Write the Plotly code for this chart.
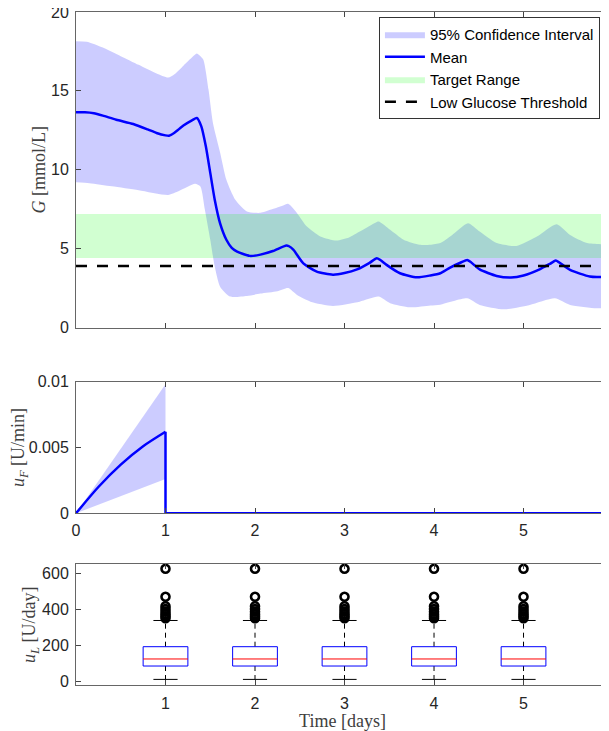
import plotly.graph_objects as go

# ---------------- data ----------------
# Glucose mean
t_mean = [0.00, 0.10, 0.20, 0.30, 0.45, 0.64, 0.80, 0.90, 1.00, 1.04, 1.10, 1.20, 1.30, 1.35,
          1.40, 1.45, 1.50, 1.55, 1.61, 1.68, 1.74, 1.80, 1.94, 2.06, 2.20, 2.35, 2.38, 2.43,
          2.54, 2.69, 2.87, 3.00, 3.14, 3.28, 3.36, 3.40, 3.47, 3.62, 3.81, 3.96, 4.07, 4.18,
          4.30, 4.37, 4.41, 4.51, 4.70, 4.86, 5.00, 5.18, 5.30, 5.36, 5.40, 5.52, 5.74, 5.85, 5.96]
g_mean = [13.64, 13.64, 13.58, 13.43, 13.17, 12.90, 12.56, 12.33, 12.18, 12.16, 12.35, 12.80, 13.15, 13.28,
          12.75, 11.50, 9.80, 8.10, 6.60, 5.56, 5.05, 4.81, 4.54, 4.62, 4.85, 5.20, 5.15, 4.92,
          4.07, 3.54, 3.35, 3.45, 3.68, 4.10, 4.39, 4.28, 3.97, 3.44, 3.18, 3.30, 3.44, 3.80,
          4.12, 4.28, 4.15, 3.68, 3.27, 3.17, 3.30, 3.69, 4.05, 4.24, 4.12, 3.65, 3.23, 3.20, 3.27]

# Glucose 95% CI upper bound
t_upper = [0.00, 0.12, 0.30, 0.50, 0.70, 0.90, 1.03, 1.10, 1.20, 1.30, 1.35, 1.42, 1.48, 1.53,
           1.61, 1.68, 1.78, 1.91, 2.06, 2.17, 2.30, 2.37, 2.47, 2.58, 2.73, 2.91, 3.05, 3.17,
           3.30, 3.38, 3.51, 3.66, 3.84, 3.96, 4.07, 4.20, 4.38, 4.51, 4.70, 4.92, 5.15, 5.37,
           5.52, 5.71, 5.96]
g_upper = [18.15, 18.12, 17.75, 17.20, 16.65, 16.10, 15.84, 16.05, 16.60, 17.15, 17.37, 17.00, 15.10, 12.97,
           11.10, 9.37, 8.10, 7.35, 7.27, 7.46, 7.70, 7.84, 7.25, 6.40, 5.77, 5.51, 5.70, 6.08,
           6.50, 6.72, 6.19, 5.56, 5.24, 5.24, 5.35, 5.85, 6.61, 6.08, 5.35, 5.17, 5.77, 6.55,
           5.87, 5.35, 5.13]

# Glucose 95% CI lower bound
t_lower = [0.00, 0.15, 0.40, 0.70, 1.03, 1.15, 1.33, 1.39, 1.44, 1.50, 1.55, 1.61, 1.72, 1.91,
           2.06, 2.25, 2.37, 2.47, 2.62, 2.87, 3.17, 3.38, 3.51, 3.73, 3.96, 4.07, 4.37, 4.51,
           4.78, 5.07, 5.35, 5.52, 5.82, 5.96]
g_lower = [9.20, 9.15, 8.95, 8.70, 8.40, 8.65, 9.11, 8.94, 7.46, 5.56, 3.86, 2.59, 1.96, 2.00,
           2.15, 2.30, 2.50, 2.06, 1.64, 1.37, 1.64, 1.96, 1.54, 1.28, 1.40, 1.45, 1.85, 1.43,
           1.15, 1.43, 1.85, 1.43, 1.22, 1.32]

target_low, target_high = 4.4, 7.2
low_threshold = 3.9
t_span = [0.0, 6.0]

# Insulin rate u_F (rise during day 1, then switched off)
t_uf_rise = [0.0, 0.25, 0.5, 0.75, 1.0]
uf_mean_rise = [0.0, 0.0020, 0.0037, 0.0051, 0.0062]
t_uf_off = [1.0, 1.0, 6.0]
uf_mean_off = [0.0062, 0.0, 0.0]
uf_upper = [0.0, 0.00245, 0.0049, 0.00735, 0.0098]
uf_lower = [0.0, 0.00065, 0.0013, 0.00195, 0.0026]

# Daily insulin u_L box statistics
days = [1, 2, 3, 4, 5]
ul_q1 = [87, 87, 87, 87, 87]
ul_median = [126, 126, 126, 126, 126]
ul_q3 = [194, 194, 194, 194, 194]
ul_wlow = [13, 13, 13, 13, 13]
ul_whigh = [339, 339, 339, 339, 339]
ul_outliers = [
    [625, 470, 418, 402, 388, 374, 362, 352],
    [625, 470, 418, 402, 388, 374, 362, 352],
    [625, 470, 418, 402, 388, 374, 362, 352],
    [625, 470, 418, 402, 388, 374, 362, 352],
    [625, 470, 418, 402, 388, 374, 362, 352],
]

# ---------------- style ----------------
BLUE = "#0000ff"
CI_FILL = "rgba(0,0,255,0.2)"
GREEN_FILL = "rgba(0,255,0,0.18)"
TICKFONT = dict(family="Liberation Sans, Arial, sans-serif", size=16, color="#262626")
TITLEFONT = dict(family="Liberation Serif, Times New Roman, serif", size=18, color="#404040")
XR = [0, 5.955]
BOX_HALF = 0.25
CAP_HALF = 0.135

fig = go.Figure()

# ---- top panel ----
fig.add_trace(go.Scatter(
    x=t_upper + t_lower[::-1], y=g_upper + g_lower[::-1],
    fill="toself", fillcolor=CI_FILL, line=dict(width=0, shape="spline", smoothing=0.6),
    mode="lines", name="95% Confidence Interval", legendrank=1,
    xaxis="x", yaxis="y", hoverinfo="skip"))
fig.add_trace(go.Scatter(
    x=[t_span[0], t_span[1], t_span[1], t_span[0]],
    y=[target_low, target_low, target_high, target_high],
    fill="toself", fillcolor=GREEN_FILL, line=dict(width=0), mode="lines",
    name="Target Range", legendrank=3, xaxis="x", yaxis="y", hoverinfo="skip"))
fig.add_trace(go.Scatter(
    x=t_mean, y=g_mean, mode="lines", line=dict(color=BLUE, width=2.5, shape="spline", smoothing=0.6),
    name="Mean", legendrank=2, xaxis="x", yaxis="y"))
fig.add_trace(go.Scatter(
    x=t_span, y=[low_threshold, low_threshold], mode="lines",
    line=dict(color="black", width=2.5, dash="11px,10px"),
    name="Low Glucose Threshold", legendrank=4, xaxis="x", yaxis="y"))

# ---- middle panel ----
fig.add_trace(go.Scatter(
    x=t_uf_rise + t_uf_rise[::-1], y=uf_upper + uf_lower[::-1],
    fill="toself", fillcolor=CI_FILL, line=dict(width=0), mode="lines",
    showlegend=False, xaxis="x2", yaxis="y2", hoverinfo="skip"))
fig.add_trace(go.Scatter(
    x=t_uf_rise, y=uf_mean_rise, mode="lines", line=dict(color=BLUE, width=2.5, shape="spline", smoothing=0.8),
    showlegend=False, xaxis="x2", yaxis="y2"))
fig.add_trace(go.Scatter(
    x=t_uf_off, y=uf_mean_off, mode="lines", line=dict(color=BLUE, width=2.5),
    showlegend=False, xaxis="x2", yaxis="y2", cliponaxis=False))

# ---- bottom panel: box plots ----
bx, by, mx, my, wx, wy, cx, cy, ox, oy = [], [], [], [], [], [], [], [], [], []
for i, d in enumerate(days):
    l, r = d - BOX_HALF, d + BOX_HALF
    bx += [l, r, r, l, l, None]
    by += [ul_q1[i], ul_q1[i], ul_q3[i], ul_q3[i], ul_q1[i], None]
    mx += [l, r, None]
    my += [ul_median[i], ul_median[i], None]
    wx += [d, d, None, d, d, None]
    wy += [ul_q3[i], ul_whigh[i], None, ul_q1[i], ul_wlow[i], None]
    cx += [d - CAP_HALF, d + CAP_HALF, None, d - CAP_HALF, d + CAP_HALF, None]
    cy += [ul_whigh[i], ul_whigh[i], None, ul_wlow[i], ul_wlow[i], None]
    for v in ul_outliers[i]:
        ox.append(d)
        oy.append(v)

fig.add_trace(go.Scatter(x=wx, y=wy, mode="lines", line=dict(color="black", width=1, dash="5px,4px"),
                         showlegend=False, xaxis="x3", yaxis="y3"))
fig.add_trace(go.Scatter(x=cx, y=cy, mode="lines", line=dict(color="black", width=1),
                         showlegend=False, xaxis="x3", yaxis="y3"))
fig.add_trace(go.Scatter(x=bx, y=by, mode="lines", line=dict(color=BLUE, width=1),
                         showlegend=False, xaxis="x3", yaxis="y3"))
fig.add_trace(go.Scatter(x=mx, y=my, mode="lines", line=dict(color="red", width=1),
                         showlegend=False, xaxis="x3", yaxis="y3"))
fig.add_trace(go.Scatter(x=ox, y=oy, mode="markers",
                         marker=dict(symbol="circle-open", size=8, color="black", line=dict(width=2.6)),
                         showlegend=False, xaxis="x3", yaxis="y3", cliponaxis=False))

common = dict(showline=True, linecolor="#666666", linewidth=1, mirror="ticks", ticks="inside",
              ticklen=5, tickcolor="#444444", showgrid=False, zeroline=False, tickfont=TICKFONT,
              ticklabeloverflow="allow")

# page body has an 8px margin: the figure is sized so that the page matches 609x731
FIG_W, FIG_H = 601, 723
M_L, M_T, M_B = 68, 4, 46
PLOT_H = FIG_H - M_T - M_B

def dom(top_px, bot_px):
    # pixel positions as seen in the page (figure offset by 8px)
    top_px -= 8
    bot_px -= 8
    base = FIG_H - M_B
    return [(base - bot_px) / PLOT_H, (base - top_px) / PLOT_H]

fig.update_layout(
    width=FIG_W, height=FIG_H,
    margin=dict(l=M_L, r=0, t=M_T, b=M_B, autoexpand=False),
    paper_bgcolor="white", plot_bgcolor="white",
    xaxis=dict(domain=[0, 1], range=XR, anchor="y", tickvals=[0, 1, 2, 3, 4, 5],
               showticklabels=False, **common),
    yaxis=dict(domain=dom(12, 327.5), range=[0, 20], anchor="x", tickvals=[0, 5, 10, 15, 20],
               ticklabelstandoff=3,
               title=dict(text="<i>G</i> [mmol/L]", font=TITLEFONT, standoff=0), **common),
    xaxis2=dict(domain=[0, 1], range=XR, anchor="y2", tickvals=[0, 1, 2, 3, 4, 5],
                ticklabelstandoff=2, **common),
    yaxis2=dict(domain=dom(381.7, 513.3), range=[0, 0.01], anchor="x2",
                tickvals=[0, 0.005, 0.01], ticktext=["0", "0.005", "0.01"], ticklabelstandoff=3,
                title=dict(text="<i>u<sub>F</sub></i> [U/min]", font=TITLEFONT, standoff=4), **common),
    xaxis3=dict(domain=[0, 1], range=XR, anchor="y3", tickvals=[1, 2, 3, 4, 5], ticklabelstandoff=4,
                title=dict(text="Time [days]", font=TITLEFONT, standoff=6), **common),
    yaxis3=dict(domain=dom(564.3, 685), range=[-18, 650], anchor="x3", tickvals=[0, 200, 400, 600],
                ticklabelstandoff=3,
                title=dict(text="<i>u<sub>L</sub></i> [U/day]", font=TITLEFONT, standoff=0), **common),
    legend=dict(x=0.983, y=0.9926, xanchor="right", yanchor="top",
                bgcolor="white", bordercolor="#333333", borderwidth=1,
                font=dict(family="Liberation Sans, Arial, sans-serif", size=15, color="#000000"),
                itemwidth=40, tracegroupgap=0),
    showlegend=True,
)

fig.write_html("out.html")
